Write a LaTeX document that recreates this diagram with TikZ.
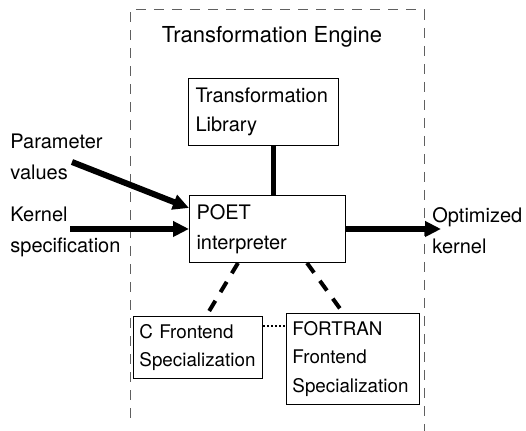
\documentclass[tikz,border=0pt]{standalone}
\usepackage{fontspec}
\setmainfont{TeX Gyre Heros}
\usetikzlibrary{positioning,arrows.meta,calc}

\begin{document}
\begin{tikzpicture}[
  x=0.5pt, y=-0.5pt,
  blk/.style={draw, line width=0.5pt, anchor=north west, align=left, inner xsep=3.5pt, inner ysep=0pt,
    font=\fontsize{10}{14.75}\selectfont},
  feblk/.style={blk, inner xsep=3pt, font=\fontsize{9.4}{14.25}\selectfont},
  lbl/.style={anchor=north west, align=left, inner sep=0pt, font=\fontsize{10}{15.5}\selectfont},
  flow/.style={-{Triangle[length=8pt, width=7.5pt]}, line width=3pt},
  link/.style={line width=2.5pt},
  hint/.style={line width=2pt, dash pattern=on 6pt off 5pt},
  peer/.style={line width=1pt, dash pattern=on 1pt off 1pt},
  border/.style={gray!75!black, line width=0.5pt, dash pattern=on 5pt off 4pt},
]
\useasboundingbox (0,0) rectangle (526,431);

% === Engine frame ===
\draw[border] (130,418) -- (130,10) -- (424,10) -- (424,431);
\node[font=\fontsize{11}{13}\selectfont] (eng) at (272,37) {Transformation Engine};

% === Boxes ===
\node[blk, minimum width=75pt, minimum height=33.5pt, text width=68pt] (lib) at (188,78) {Transformation\\Library};
\node[blk, minimum width=78pt, minimum height=33.5pt, text width=71pt] (poet) at (189,195) {POET\\interpreter};
\node[feblk, minimum width=64.5pt, minimum height=31pt, text width=58.5pt] (cfe) at (133,316) {C Frontend\\Specialization};
\node[feblk, minimum width=66.5pt, minimum height=45.5pt, text width=60.5pt] (ffe) at (286,313) {FORTRAN\\Frontend\\Specialization};

% === Inputs and output ===
\node[lbl] (par) at (10,134) {Parameter\\values};
\node[lbl] (kern) at (10,207) {Kernel\\specification};
\node[lbl] (opt) at (432,207) {Optimized\\kernel};

\coordinate (pin) at (72,162);
\coordinate (kin) at (70,229);
\coordinate (kout) at (441,229);

\draw[flow] (pin) -- ($(poet.north west)+(0,13)$);
\draw[flow] (kin) -- (kin -| poet.west);
\draw[flow] (poet.east |- kout) -- (kout);

% === Connections ===
\draw[link] ([xshift=5pt]lib.south) -- ([xshift=5pt]lib.south |- poet.north);
\draw[hint] ($(poet.south west)+(49,0)$) -- ($(cfe.north)+(10,-3)$);
\draw[hint] ($(poet.south west)+(118,0)$) -- ($(ffe.north)+(-12,-3)$);
\coordinate (fe) at ([yshift=-5pt]cfe.north east);
\draw[peer] (fe) -- (fe -| ffe.west);

\end{tikzpicture}
\end{document}
